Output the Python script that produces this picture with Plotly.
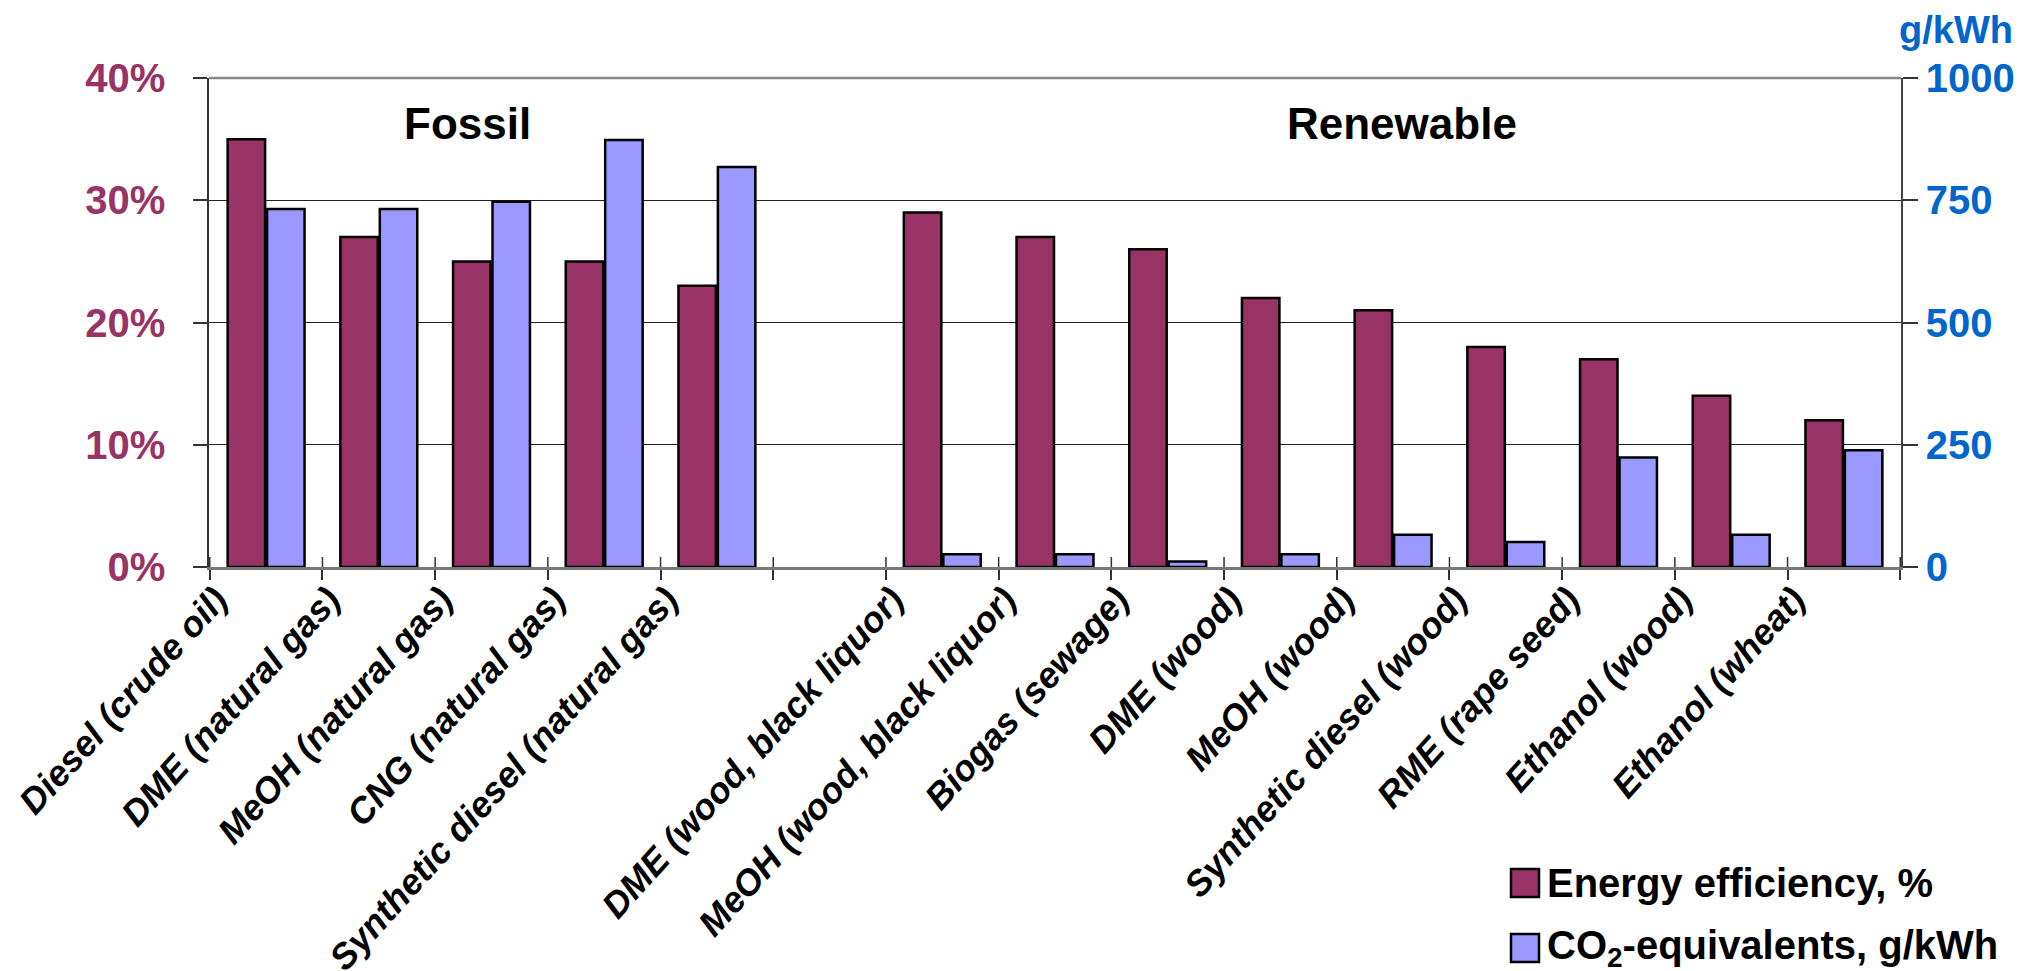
import plotly.graph_objects as go

# Fuel pathways (a blank slot separates fossil from renewable routes)
categories = [
    "Diesel (crude oil)", "DME (natural gas)", "MeOH (natural gas)", "CNG (natural gas)",
    "Synthetic diesel (natural gas)", " ",
    "DME (wood, black liquor)", "MeOH (wood, black liquor)", "Biogas (sewage)",
    "DME (wood)", "MeOH (wood)", "Synthetic diesel (wood)", "RME (rape seed)",
    "Ethanol (wood)", "Ethanol (wheat)",
]
efficiency_pct = [35, 27, 25, 25, 23, None, 29, 27, 26, 22, 21, 18, 17, 14, 12]
co2_g_per_kwh = [732, 732, 747, 873, 818, None, 26, 26, 11, 26, 66, 51, 224, 66, 239]

pct_ticks = [0, 10, 20, 30, 40]
pct_labels = ["0%", "10%", "20%", "30%", "40%"]
co2_ticks = [0, 250, 500, 750, 1000]
co2_labels = ["0", "250", "500", "750", "1000"]

series_names = ["Energy efficiency, %", "CO<sub>2</sub>-equivalents, g/kWh"]
group_labels = ["Fossil", "Renewable"]

# Page geometry (pixels)
W, H = 2044, 971
L, R, T, B = 209, 143, 78, 404
PW, PH = W - L - R, H - T - B

MAROON = "#993366"
LILAC = "#9999FF"
BLUE = "#0066CC"
FONT = "Liberation Sans, Arial, sans-serif"


def px_x(x):
    return (x - L) / PW


def px_y(y):
    return (H - B - y) / PH


fig = go.Figure()
fig.add_trace(go.Bar(
    x=categories, y=efficiency_pct, name=series_names[0], offsetgroup="eff",
    marker=dict(color=MAROON, line=dict(color="black", width=2.5)),
    yaxis="y",
))
fig.add_trace(go.Bar(
    x=categories, y=co2_g_per_kwh, name=series_names[1], offsetgroup="co2",
    marker=dict(color=LILAC, line=dict(color="black", width=2.5)),
    yaxis="y2",
))

shapes = []
# plot-area top border
shapes.append(dict(type="line", xref="paper", yref="paper", x0=0, x1=1, y0=1, y1=1,
                   line=dict(color="#888888", width=2.5)))
# upper half of the crossing category tick marks
for i in range(len(categories) + 1):
    shapes.append(dict(type="line", xref="x", yref="paper", x0=i - 0.5, x1=i - 0.5,
                       y0=0, y1=10 / PH, line=dict(color="#333333", width=1.5)))

annotations = [
    dict(text=group_labels[0], xref="paper", yref="paper", x=px_x(467), y=px_y(124),
         showarrow=False, xanchor="center", yanchor="middle",
         font=dict(family=FONT, size=44, color="black", weight="bold")),
    dict(text=group_labels[1], xref="paper", yref="paper", x=px_x(1402), y=px_y(124),
         showarrow=False, xanchor="center", yanchor="middle",
         font=dict(family=FONT, size=44, color="black", weight="bold")),
    dict(text="g/kWh", xref="paper", yref="paper", x=px_x(1956), y=px_y(30),
         showarrow=False, xanchor="center", yanchor="middle",
         font=dict(family=FONT, size=38, color=BLUE, weight="bold")),
]

# legend: swatch + label per series
legend_rows = [(883, MAROON), (948, LILAC)]
for (cy, color), name in zip(legend_rows, series_names):
    shapes.append(dict(type="rect", xref="paper", yref="paper",
                       x0=px_x(1511), x1=px_x(1539), y0=px_y(cy + 14), y1=px_y(cy - 14),
                       fillcolor=color, line=dict(color="black", width=2.5)))
    annotations.append(dict(text=name, xref="paper", yref="paper", x=px_x(1545), y=px_y(cy),
                            showarrow=False, xanchor="left", yanchor="middle",
                            font=dict(family=FONT, size=40, color="black", weight="bold")))

fig.update_layout(
    width=W, height=H, autosize=False,
    margin=dict(l=L, r=R, t=T, b=B, pad=0, autoexpand=False),
    paper_bgcolor="white", plot_bgcolor="white",
    barmode="group", bargap=0.30, bargroupgap=0.05,
    showlegend=False,
    shapes=shapes, annotations=annotations,
    xaxis=dict(
        type="category", categoryorder="array", categoryarray=categories,
        automargin=False,
        tickson="boundaries", ticks="outside", ticklen=10, tickwidth=1.5, tickcolor="#333333",
        showline=True, linecolor="#777777", linewidth=2.5, showgrid=False,
        tickangle=-48, ticklabelshift=-50, ticklabelstandoff=-6,
        tickfont=dict(family=FONT, size=36, color="black", weight="bold", style="italic"),
    ),
    yaxis=dict(
        range=[0, 40], tickvals=pct_ticks, ticktext=pct_labels, automargin=False,
        showgrid=True, gridcolor="#222222", gridwidth=1, zeroline=False,
        ticks="outside", ticklen=14, tickwidth=1.5, tickcolor="#333333",
        showline=True, linecolor="#333333", linewidth=1.5,
        ticklabelstandoff=20,
        tickfont=dict(family=FONT, size=40, color=MAROON, weight="bold"),
    ),
    yaxis2=dict(
        overlaying="y", side="right", range=[0, 1000], tickvals=co2_ticks, ticktext=co2_labels,
        automargin=False,
        showgrid=False, zeroline=False,
        ticks="outside", ticklen=15, tickwidth=1.5, tickcolor="#333333",
        showline=True, linecolor="#444444", linewidth=1.5,
        tickfont=dict(family=FONT, size=40, color=BLUE, weight="bold"),
    ),
)

fig.write_html("out.html")
